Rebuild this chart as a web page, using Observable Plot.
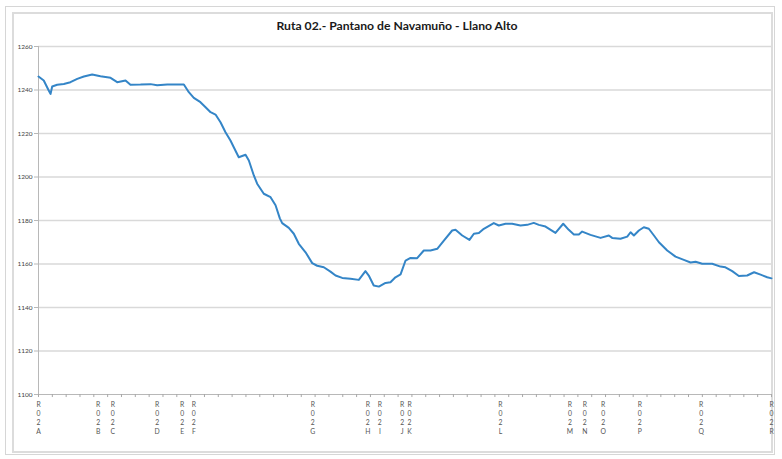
<!DOCTYPE html>
<html>
<head>
<meta charset="utf-8">
<script src="https://cdn.jsdelivr.net/npm/d3@7"></script>
<script src="https://cdn.jsdelivr.net/npm/@observablehq/plot@0.6"></script>
<style>
  html, body { margin: 0; padding: 0; background: #fff; }
  #wrap { position: relative; width: 782px; height: 459px; overflow: hidden; background: #fff; }
  #outer { position: absolute; left: 5px; top: 6px; width: 770px; height: 449px; border: 1.5px solid #d6d6d6; box-sizing: border-box; }
  #inner { position: absolute; left: 12px; top: 12px; width: 761px; height: 441px; border: 2px solid #dcdcdc; box-sizing: border-box; }
  #title { position: absolute; left: 0; top: 18px; width: 794px; text-align: center; font-family: Lato, "Open Sans", sans-serif; font-weight: bold; font-size: 12.2px; color: #1a1a1a; }
  #chart { position: absolute; left: 0; top: 36px; }
</style>
</head>
<body>
<div id="wrap">
  <div id="outer"></div>
  <div id="inner"></div>
  <div id="title">Ruta 02.- Pantano de Navamuño - Llano Alto</div>
  <div id="chart"></div>
</div>
<script>
// Distance along the route (axis category units) and elevation (m)
const distance = [0, 0.38, 0.74, 0.87, 0.99, 1.35, 1.83, 2.31, 2.80, 3.28, 3.88, 4.48, 5.21, 5.69, 6.29, 6.65, 7.38, 8.10, 8.58, 9.31, 10.03, 10.51, 10.87, 11.23, 11.71, 12.08, 12.44, 12.80, 13.16, 13.52, 13.88, 14.12, 14.48, 14.97, 15.21, 15.57, 15.81, 16.29, 16.78, 17.14, 17.45, 17.62, 18.10, 18.46, 18.82, 19.31, 19.79, 20.15, 20.63, 21.11, 21.48, 21.96, 22.56, 23.16, 23.64, 23.88, 24.24, 24.61, 25.09, 25.45, 25.81, 26.18, 26.54, 26.90, 27.38, 27.86, 28.34, 28.83, 29.31, 29.91, 30.15, 30.64, 31.16, 31.48, 31.84, 32.20, 32.92, 33.28, 33.77, 34.25, 34.85, 35.34, 35.81, 36.18, 36.66, 37.38, 37.94, 38.34, 38.71, 39.07, 39.31, 39.91, 40.64, 41.24, 41.48, 42.08, 42.57, 42.81, 43.05, 43.41, 43.77, 44.13, 44.50, 44.86, 45.46, 46.06, 46.66, 47.15, 47.51, 47.99, 48.71, 49.31, 49.67, 50.16, 50.64, 51.24, 51.74, 52.21, 52.69, 53.0];
const elevation = [1246.2, 1244.4, 1239.8, 1238.2, 1241.6, 1242.4, 1242.8, 1243.6, 1245.1, 1246.2, 1247.1, 1246.3, 1245.6, 1243.6, 1244.4, 1242.4, 1242.5, 1242.7, 1242.2, 1242.5, 1242.5, 1242.5, 1239.0, 1236.4, 1234.4, 1232.1, 1229.8, 1228.7, 1225.2, 1220.6, 1216.8, 1213.7, 1209.1, 1210.2, 1207.6, 1200.7, 1196.9, 1192.3, 1190.7, 1187.0, 1181.0, 1178.8, 1176.6, 1173.9, 1169.3, 1165.4, 1160.4, 1159.2, 1158.5, 1156.5, 1154.7, 1153.6, 1153.2, 1152.7, 1156.7, 1154.7, 1150.1, 1149.6, 1151.3, 1151.6, 1153.9, 1155.2, 1161.6, 1162.8, 1162.7, 1166.2, 1166.2, 1167.0, 1170.8, 1175.4, 1175.7, 1173.1, 1171.1, 1173.9, 1174.2, 1176.2, 1178.8, 1177.7, 1178.5, 1178.5, 1177.7, 1178.0, 1178.9, 1178.0, 1177.2, 1174.3, 1178.5, 1175.7, 1173.6, 1173.6, 1174.9, 1173.4, 1172.0, 1173.1, 1172.0, 1171.6, 1172.6, 1174.6, 1173.1, 1175.4, 1176.9, 1176.2, 1173.1, 1170.0, 1166.2, 1163.4, 1161.9, 1160.7, 1161.0, 1160.1, 1160.1, 1158.8, 1158.5, 1156.7, 1154.5, 1154.7, 1156.2, 1155.1, 1153.9, 1153.4];

// Waypoint labels and their positions along the axis
const waypointNames = ["R02A", "R02B", "R02C", "R02D", "R02E", "R02F", "R02G", "R02H", "R02I", "R02J", "R02K", "R02L", "R02M", "R02N", "R02O", "R02P", "R02Q", "R02R"];
const waypointPos = [0, 4.32, 5.37, 8.58, 10.39, 11.23, 19.83, 23.81, 24.68, 26.3, 26.83, 33.4, 38.42, 39.5, 40.83, 43.48, 47.92, 53.0];

const yTicks = [1100, 1120, 1140, 1160, 1180, 1200, 1220, 1240, 1260];
const xTickMarks = d3.range(0, 54);

const profile = distance.map((d, i) => ({d, e: elevation[i]}));
const waypoints = waypointNames.map((n, i) => ({name: n, pos: waypointPos[i]}));

const chart = Plot.plot({
  width: 782,
  height: 423,
  marginLeft: 38,
  marginRight: 11,
  marginTop: 10,
  marginBottom: 65,
  style: {background: "transparent", fontFamily: "Lato, 'Open Sans', sans-serif"},
  x: {type: "linear", domain: [0, 53], axis: null},
  y: {type: "linear", domain: [1100, 1260], axis: null},
  marks: [
    Plot.gridY(yTicks.filter(t => t > 1100), {stroke: "#d9d9d9", strokeOpacity: 1, strokeWidth: 1.4}),
    Plot.ruleY([1100], {stroke: "#b8b8b8", strokeWidth: 1}),
    Plot.ruleX([0], {stroke: "#b8b8b8", strokeWidth: 1}),
    Plot.axisY({ticks: yTicks, label: null, tickSize: 4, tickPadding: 2, fontSize: 6.5, stroke: "#b8b8b8", strokeOpacity: 1, color: "#444", tickFormat: d => String(d)}),
    Plot.ruleX(xTickMarks, {x: d => d, y1: 1100, y2: 1098.6, stroke: "#a8a8a8", strokeWidth: 1}),
    Plot.line(profile, {x: "d", y: "e", stroke: "#3485c7", strokeWidth: 2, curve: "linear"}),
    Plot.text(waypoints, {
      x: "pos", y: 1100,
      text: d => d.name.split("").join("\n"),
      lineAnchor: "top", dy: 6, lineHeight: 1.33,
      fontSize: 6.8, fill: "#555"
    })
  ]
});
document.getElementById("chart").appendChild(chart);
</script>
</body>
</html>
